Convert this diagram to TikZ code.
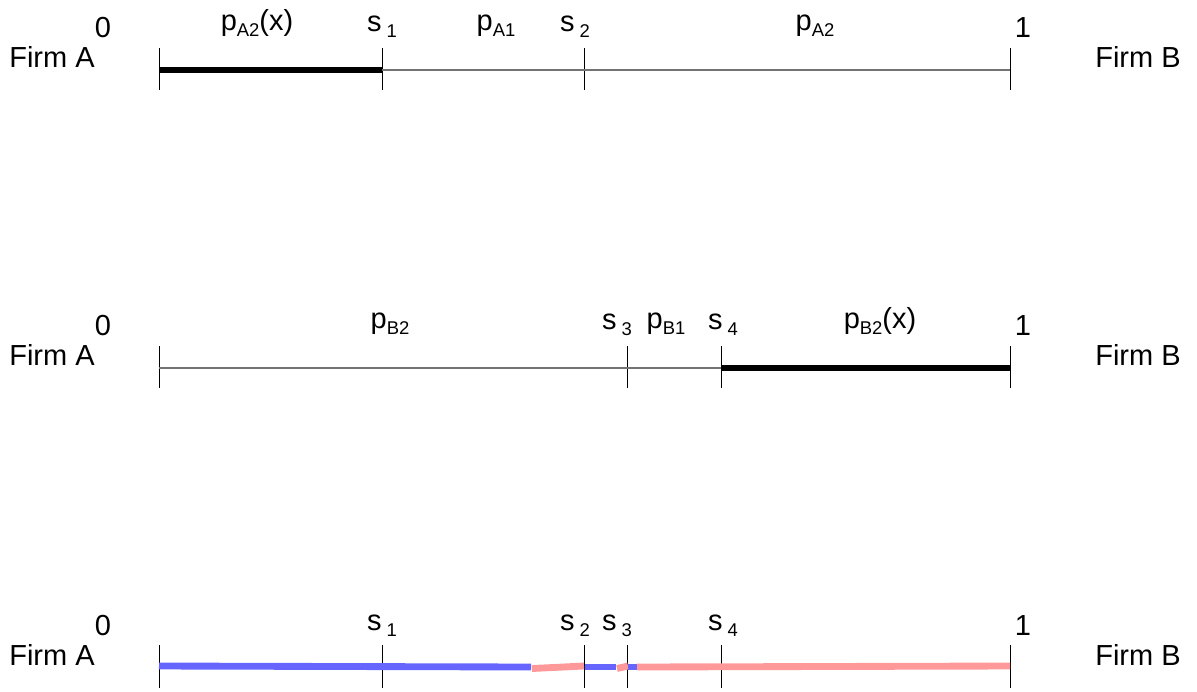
\documentclass[tikz,border=0pt]{standalone}
\usepackage{fontspec}
\setmainfont{Liberation Sans}
\definecolor{segblue}{RGB}{102,102,255}
\definecolor{segpink}{RGB}{255,153,153}
\newcommand{\sub}[1]{\,\raisebox{-0.45ex}{\fontsize{10.5}{12}\selectfont #1}}
\newcommand{\psub}[1]{\raisebox{-0.45ex}{\fontsize{10.5}{12}\selectfont #1}}
\tikzset{
  baseline/.style={color=black!55,line width=0.7pt},
  tickmark/.style={color=black,line width=0.55pt},
  boldseg/.style={color=black,line width=3.6pt},
  blueseg/.style={color=segblue,line width=3.9pt},
  pinkseg/.style={color=segpink,line width=3.9pt},
  lbl/.style={font=\fontsize{16.5}{19}\selectfont,inner sep=0pt,anchor=base},
}
\begin{document}
\begin{tikzpicture}[x=0.02cm,y=-0.02cm]
		\useasboundingbox (0,0) rectangle (1197,691);

		% Row 1 : firm A
		\foreach \n/\x in {a0/159,a1/382,a2/584,a3/1010}{
			\coordinate (\n) at (\x,70);
			\draw[tickmark] (\x,48) -- (\x,90);
			}
		\draw[baseline] (a0) -- (a3);
		\draw[boldseg] (a0) -- (a1);
		\node[lbl] (fa1) at (52,67) {Firm A};
		\node[lbl] (fb1) at (1138,67) {Firm B};
		\node[lbl] (z1) at (103,37) {0};
		\node[lbl] (o1) at (1023,37) {1};
		\node[lbl] (pa2x) at (257,30) {p\psub{A2}(x)};
		\node[lbl] (s1a) at (382,31) {s\sub{1}};
		\node[lbl] (pa1) at (496,30) {p\psub{A1}};
		\node[lbl] (s2a) at (575,31) {s\sub{2}};
		\node[lbl] (pa2) at (815,30) {p\psub{A2}};

		% Row 2 : firm B
		\foreach \n/\x in {b0/159,b1/627,b2/721,b3/1010}{
			\coordinate (\n) at (\x,368);
			\draw[tickmark] (\x,346) -- (\x,388);
			}
		\draw[baseline] (b0) -- (b3);
		\draw[boldseg] (b2) -- (b3);
		\node[lbl] (fa2) at (52,365) {Firm A};
		\node[lbl] (fb2) at (1138,365) {Firm B};
		\node[lbl] (z2) at (103,335) {0};
		\node[lbl] (o2) at (1023,335) {1};
		\node[lbl] (pb2) at (390,328) {p\psub{B2}};
		\node[lbl] (s3b) at (617,329) {s\sub{3}};
		\node[lbl] (pb1) at (666,328) {p\psub{B1}};
		\node[lbl] (s4b) at (723,329) {s\sub{4}};
		\node[lbl] (pb2x) at (880,328) {p\psub{B2}(x)};

		% Row 3 : both
		\foreach \n/\x in {c0/159,c1/382,c2/584,c3/627,c4/721,c5/1010}{
			\coordinate (\n) at (\x,666);
			\draw[tickmark] (\x,645) -- (\x,688);
			}
		\coordinate (k1) at (531,667);
		\coordinate (k2) at (616,667);
		\coordinate (k3) at (637,667);
		\draw[blueseg] (c0) -- (k1);
		\draw[pinkseg] (532,668.5) -- (584,666);
		\draw[blueseg] (585,667) -- (k2);
		\draw[pinkseg] (617,668.5) -- (628,666);
		\draw[blueseg] (628,667) -- (k3);
		\draw[pinkseg] (k3) -- (c5);
		\node[lbl] (fa3) at (52,665) {Firm A};
		\node[lbl] (fb3) at (1138,665) {Firm B};
		\node[lbl] (z3) at (103,635) {0};
		\node[lbl] (o3) at (1023,635) {1};
		\node[lbl] (s1c) at (382,630) {s\sub{1}};
		\node[lbl] (s2c) at (575,630) {s\sub{2}};
		\node[lbl] (s3c) at (617,630) {s\sub{3}};
		\node[lbl] (s4c) at (723,630) {s\sub{4}};
\end{tikzpicture}
\end{document}
